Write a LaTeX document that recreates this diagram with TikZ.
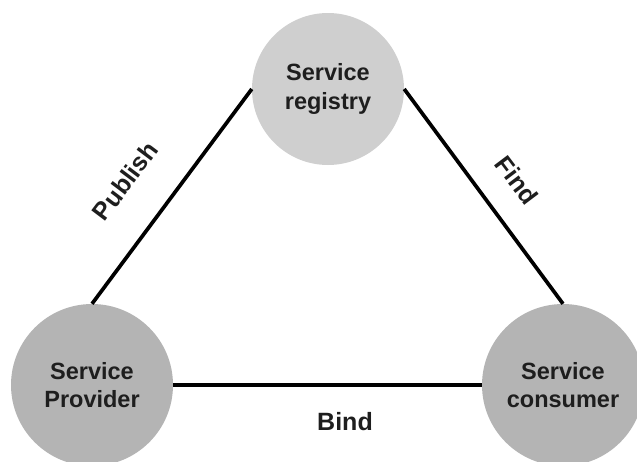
\documentclass[tikz,border=0pt]{standalone}
\usepackage{fontspec}
\setmainfont{Liberation Sans}
\usepackage{tikz}
\usetikzlibrary{positioning}
\definecolor{regfill}{HTML}{CFCFCF}
\definecolor{partyfill}{HTML}{B4B4B4}
\definecolor{ink}{HTML}{1E1E1E}
\tikzset{party/.style = {circle,fill=partyfill,inner sep=0mm,minimum size=162pt,align=center,text=ink,
                         font=\bfseries\fontsize{23.5}{28.5}\selectfont},
         verb/.style = {text=ink,font=\bfseries\fontsize{25}{28}\selectfont,inner sep=0pt}}

\begin{document}
\begin{tikzpicture}[x=1pt,y=-1pt]
                    \useasboundingbox (0,0) rectangle (637,461);
                    \node [party,fill=regfill,minimum size=152pt] (registry) at (328,89) {Service\\registry};
                    \node [party] (provider) at (92,385) {Service\\Provider};
                    \node [party] (consumer) at (563,385) {Service\\consumer};
                    \draw [line width=3.7pt] (provider.north) -- (registry.west);
                    \draw [line width=3.7pt] (registry.east) -- (consumer.north);
                    \draw [line width=3.7pt] (provider.east) -- (consumer.west);
                    \node [verb,rotate=53] (publish) at (125,181) {Publish};
                    \node [verb,rotate=-53] (find) at (517,180) {Find};
                    \node [verb] (bind) at (345,422) {Bind};
                \end{tikzpicture}
\end{document}
